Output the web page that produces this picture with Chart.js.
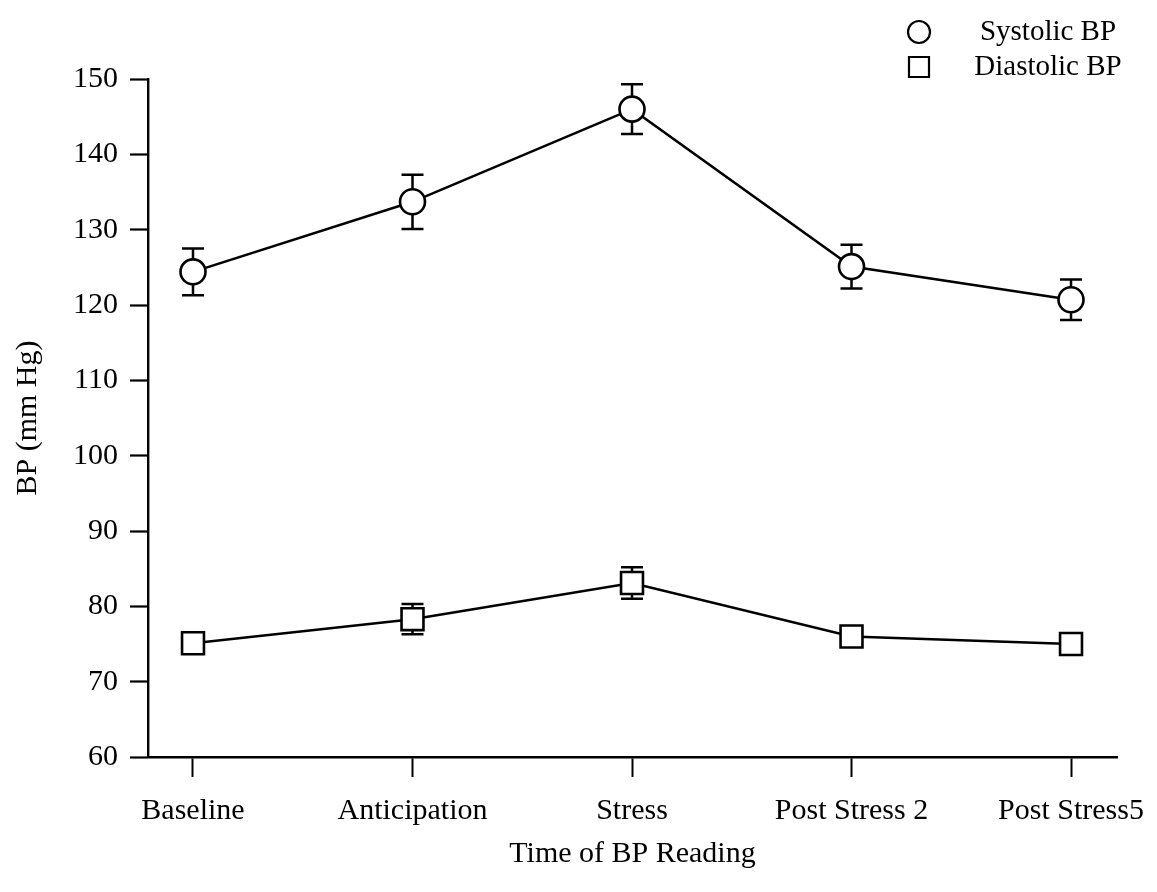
<!DOCTYPE html>
<html>
<head>
<meta charset="utf-8">
<title>BP by time of reading</title>
<script src="https://cdn.jsdelivr.net/npm/chart.js@4.4.1/dist/chart.umd.min.js"></script>
<style>
  html, body { margin: 0; padding: 0; background: #ffffff; }
  #wrap { width: 1157px; height: 892px; }
</style>
</head>
<body>
<div id="wrap"><canvas id="bp" width="1157" height="892"></canvas></div>
<script>
// Reading times along the x axis
const categories = ['Baseline', 'Anticipation', 'Stress', 'Post Stress 2', 'Post Stress5'];

// Mean blood pressure (mm Hg) and error-bar half-lengths
const systolic = [124.4, 133.7, 146.0, 125.1, 120.7];
const systolicErr = [3.1, 3.6, 3.3, 2.9, 2.7];
const diastolic = [75.1, 78.3, 83.1, 76.0, 75.0];
const diastolicErr = [1.0, 2.0, 2.1, 0.9, 1.3];

// Y axis range and tick step
const yMin = 60;
const yMax = 150;
const yStep = 10;

const FONT = '"Liberation Serif", "Times New Roman", serif';
const INK = '#000000';

function toPoints(values) {
  return values.map((v, i) => ({ x: i, y: v }));
}

// Vertical error bars with caps, drawn underneath the markers
const errorBars = {
  id: 'errorBars',
  beforeDatasetsDraw(chart) {
    const { ctx, scales } = chart;
    const xs = scales.x, ys = scales.y;
    const cap = 11;
    ctx.save();
    ctx.strokeStyle = INK;
    ctx.lineWidth = 2.5;
    chart.data.datasets.forEach(ds => {
      const errs = ds.errors || [];
      ds.data.forEach((p, i) => {
        const e = errs[i];
        if (!e) return;
        const x = xs.getPixelForValue(p.x);
        const top = ys.getPixelForValue(p.y + e);
        const bot = ys.getPixelForValue(p.y - e);
        ctx.beginPath();
        ctx.moveTo(x, top); ctx.lineTo(x, bot);
        ctx.moveTo(x - cap, top); ctx.lineTo(x + cap, top);
        ctx.moveTo(x - cap, bot); ctx.lineTo(x + cap, bot);
        ctx.stroke();
      });
    });
    ctx.restore();
  }
};

// Legend in the top-right corner: marker symbol followed by series name
const cornerLegend = {
  id: 'cornerLegend',
  afterDraw(chart) {
    const { ctx } = chart;
    const markerX = 919;
    const textCenterX = 1048;
    const rows = [32, 67];
    ctx.save();
    ctx.font = '29px ' + FONT;
    ctx.textBaseline = 'middle';
    ctx.textAlign = 'center';
    chart.data.datasets.forEach((ds, i) => {
      const y = rows[i];
      ctx.lineWidth = 2.2;
      ctx.strokeStyle = INK;
      ctx.fillStyle = '#ffffff';
      ctx.beginPath();
      if (ds.pointStyle === 'rect') {
        ctx.rect(markerX - 10, y - 10, 20, 20);
      } else {
        ctx.arc(markerX, y, 11, 0, Math.PI * 2);
      }
      ctx.fill();
      ctx.stroke();
      ctx.fillStyle = INK;
      ctx.fillText(ds.label, textCenterX, y);
    });
    ctx.restore();
  }
};

const ctx = document.getElementById('bp').getContext('2d');
new Chart(ctx, {
  type: 'line',
  data: {
    datasets: [
      {
        label: 'Systolic BP',
        data: toPoints(systolic),
        errors: systolicErr,
        borderColor: INK,
        borderWidth: 2.5,
        pointStyle: 'circle',
        pointRadius: 12.5,
        pointBorderWidth: 2.6,
        pointBackgroundColor: '#ffffff',
        pointBorderColor: INK,
        tension: 0,
        clip: false
      },
      {
        label: 'Diastolic BP',
        data: toPoints(diastolic),
        errors: diastolicErr,
        borderColor: INK,
        borderWidth: 2.5,
        pointStyle: 'rect',
        pointRadius: 15.5,
        pointBorderWidth: 2.6,
        pointBackgroundColor: '#ffffff',
        pointBorderColor: INK,
        tension: 0,
        clip: false
      }
    ]
  },
  options: {
    responsive: false,
    animation: false,
    events: [],
    layout: { padding: { top: 79, right: 40, left: 0, bottom: 0 } },
    plugins: {
      legend: { display: false },
      tooltip: { enabled: false }
    },
    scales: {
      x: {
        type: 'linear',
        min: -0.205,
        max: 4.2095,
        afterFit(scale) {
          scale.height = 892 - 79 - 678;
          scale.paddingLeft = 0;
          scale.paddingRight = 0;
        },
        afterBuildTicks(scale) {
          scale.ticks = categories.map((c, i) => ({ value: i }));
        },
        border: { display: true, color: INK, width: 2.4 },
        grid: {
          drawOnChartArea: false,
          drawTicks: true,
          tickLength: 20,
          tickWidth: 2,
          tickColor: INK
        },
        ticks: {
          autoSkip: false,
          maxRotation: 0,
          padding: 16,
          color: INK,
          font: { family: FONT, size: 30 },
          callback: (v) => categories[v]
        },
        title: {
          display: true,
          text: 'Time of BP Reading',
          color: INK,
          font: { family: FONT, size: 30 },
          padding: { top: 0, bottom: 20 }
        }
      },
      y: {
        type: 'linear',
        min: yMin,
        max: yMax,
        afterFit(scale) {
          scale.width = 148;
          scale.paddingTop = 0;
          scale.paddingBottom = 0;
        },
        border: { display: true, color: INK, width: 2.4 },
        grid: {
          drawOnChartArea: false,
          drawTicks: true,
          tickLength: 18,
          tickWidth: 2.2,
          tickColor: INK
        },
        ticks: {
          stepSize: yStep,
          padding: 12,
          color: INK,
          font: { family: FONT, size: 30 }
        },
        title: {
          display: true,
          text: 'BP (mm Hg)',
          color: INK,
          font: { family: FONT, size: 30 },
          padding: { top: 10, bottom: 0 }
        }
      }
    }
  },
  plugins: [errorBars, cornerLegend]
});
</script>
</body>
</html>
